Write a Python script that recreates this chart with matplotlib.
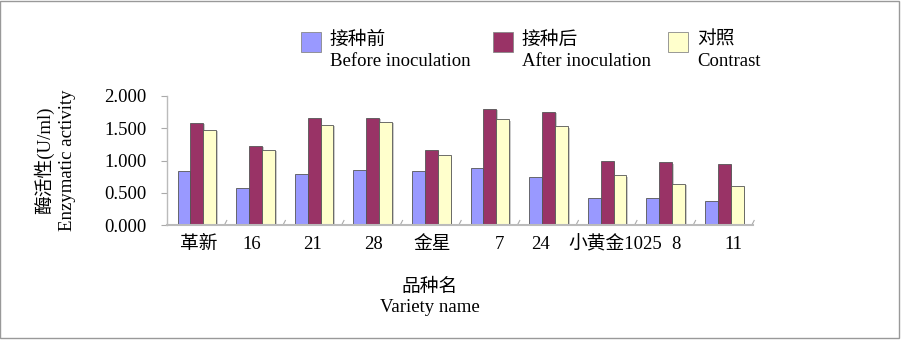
import numpy as np
import matplotlib
matplotlib.use("Agg")
from matplotlib import pyplot as plt
from matplotlib.patches import Rectangle
from matplotlib.transforms import ScaledTranslation

plt.rcParams['font.family'] = ['Liberation Serif', 'Noto Sans CJK SC']

#Data.
varieties = ["革新", "16", "21", "28", "金星", "7", "24", "小黄金1025", "8", "11"]
before = [0.84, 0.57, 0.79, 0.86, 0.84, 0.89, 0.75, 0.42, 0.42, 0.37]
after = [1.58, 1.23, 1.66, 1.66, 1.17, 1.80, 1.75, 1.00, 0.97, 0.95]
contrast = [1.48, 1.17, 1.55, 1.60, 1.08, 1.64, 1.53, 0.77, 0.64, 0.61]
series_names = ["接种前\nBefore inoculation", "接种后\nAfter inoculation", "对照\nContrast"]
colors = ["#9999FF", "#993366", "#FFFFCC"]
yticks = [0.0, 0.5, 1.0, 1.5, 2.0]

fs = 13.5
fig = plt.figure(figsize=(9.03, 3.41), dpi=100)
#Axes placed in figure pixel coordinates.
W, H = 903.0, 341.0
ax = fig.add_axes([167 / W, 1 - 225 / H, (753 - 167) / W, (225 - 96) / H])

x = np.arange(len(varieties))
width = 0.22
start = -0.32
for k, vals in enumerate([before, after, contrast]):
    pos = x + start + (k + 0.5) * width
    #Shadow for the 3D look.
    ax.bar(pos + 0.03, vals, width, bottom=-0.02, color="#cccccc", zorder=1)
    ax.bar(pos, vals, width, color=colors[k], edgecolor="#555555", linewidth=0.6, zorder=2)

ax.set_xlim(-0.5, len(varieties) - 0.5)
ax.set_ylim(0, 2.0)
ax.set_yticks(yticks)
ax.set_yticklabels(["%.3f" % v for v in yticks], fontsize=fs)
ax.set_xticks(x)
ax.set_xticklabels(varieties, fontsize=fs)
ax.tick_params(axis='x', length=0, pad=8)
ax.tick_params(axis='y', length=4, color="#aaaaaa", pad=11)

#Excel spaced the category labels a bit unevenly; nudge them (pixels)
label_shift = [2, -3, -1, 1, 2, 10, -7, 9, 11, 10]
for lab, dx in zip(ax.get_xticklabels(), label_shift):
    lab.set_transform(lab.get_transform() + ScaledTranslation(dx / 100.0, 0, fig.dpi_scale_trans))

for s in ["top", "right"]:
    ax.spines[s].set_visible(False)
ax.spines["left"].set_color("#bbbbbb")
ax.spines["bottom"].set_color("#bbbbbb")
ax.spines["left"].set_linewidth(1.0)
ax.spines["bottom"].set_linewidth(1.5)
#small slash marks between groups on the floor
for i in range(1, len(varieties) + 1):
    ax.plot([i - 0.52, i - 0.48], [0.0, 0.07], color="#aaaaaa", lw=0.8, clip_on=False)

#Axis titles
fig.text(44 / W, 1 - 160 / H, "酶活性(U/ml)", rotation=90, ha="center", va="center", fontsize=fs)
fig.text(68 / W, 1 - 160 / H, "Enzymatic activity", rotation=90, ha="center", va="center", fontsize=fs)
fig.text(430 / W, 1 - 287 / H, "品种名", ha="center", va="center", fontsize=fs)
fig.text(430 / W, 1 - 308 / H, "Variety name", ha="center", va="center", fontsize=fs)

#Legend drawn by hand
leg_x = [301, 493, 668]
for k, name in enumerate(series_names):
    fig.patches.append(Rectangle((leg_x[k] / W, 1 - 52 / H), 20 / W, 20 / H, transform=fig.transFigure,
                                 facecolor=colors[k], edgecolor="#888888", linewidth=0.6))
    zh, en = name.split("\n")
    fig.text((leg_x[k] + 29) / W, 1 - 40 / H, zh, ha="left", va="center", fontsize=fs)
    fig.text((leg_x[k] + 29) / W, 1 - 61 / H, en, ha="left", va="center", fontsize=fs)

#Frame around the whole chart
fig.patches.append(Rectangle((0.5 / W, 3 / H), 899 / W, 337 / H, transform=fig.transFigure,
                             fill=False, edgecolor="#999999", linewidth=1))

fig.savefig("out.png", dpi=100)
